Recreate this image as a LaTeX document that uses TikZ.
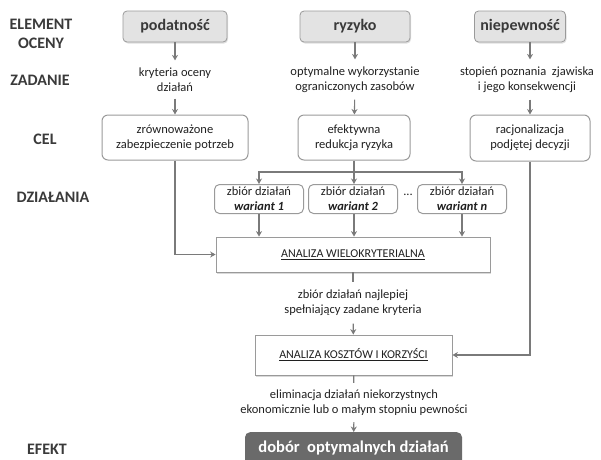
\documentclass[tikz,border=0pt]{standalone}
\usepackage{fontspec}
\setmainfont{Carlito}
\usetikzlibrary{arrows.meta,shadows}
\definecolor{linegray}{HTML}{7A7A7A}
\definecolor{framegray}{HTML}{9A9A9A}
\definecolor{topfill}{HTML}{E3E3E3}
\definecolor{darkfill}{HTML}{6A6A6A}
\definecolor{txt}{HTML}{202020}
\definecolor{lbl}{HTML}{3A3A3A}
\begin{document}
\begin{tikzpicture}[x=1pt,y=-1pt,
  every node/.style={text=txt},
  rowlabel/.style={font=\fontsize{16}{19}\selectfont\bfseries, text=lbl, align=center},
  topbox/.style={draw=framegray, fill=topfill, rounded corners=4pt, line width=0.8pt,
     minimum height=31pt, font=\fontsize{16}{19}\selectfont\bfseries, text=lbl,
     drop shadow={opacity=0.25, shadow xshift=1pt, shadow yshift=-1.5pt}},
  note/.style={align=center, font=\fontsize{12.5}{15}\selectfont, inner xsep=2pt},
  celbox/.style={draw=framegray, fill=white, rounded corners=6pt, line width=1pt,
     align=center, font=\fontsize{12.5}{15}\selectfont},
  varbox/.style={draw=framegray, fill=white, rounded corners=5pt, line width=1pt,
     align=center, minimum height=29pt, minimum width=89pt, inner ysep=0pt,
     font=\fontsize{12.5}{15}\selectfont},
  anbox/.style={draw=framegray, fill=white, line width=0.8pt,
     font=\fontsize{12}{14}\selectfont,
     drop shadow={opacity=0.3, shadow xshift=1.2pt, shadow yshift=-1.5pt}},
  resultbox/.style={fill=darkfill, rounded corners=5pt},
  resulttext/.style={text=white, inner sep=1pt, font=\fontsize{16.5}{19}\selectfont\bfseries},
  link/.style={draw=linegray, line width=1.1pt},
  arrow/.style={link, -{Stealth[length=5.5pt,width=6pt]}}
]
\useasboundingbox (0,0) rectangle (601,459);

% row labels
\node[rowlabel] (lElement) at (41,33.5) {ELEMENT\\OCENY};
\node[rowlabel] (lZadanie) at (40,80) {ZADANIE};
\node[rowlabel] (lCel) at (45,139) {CEL};
\node[rowlabel] (lDzialania) at (53,197) {DZIAŁANIA};
\node[rowlabel] (lEfekt) at (47,449) {EFEKT};

% evaluation elements
\node[topbox, minimum width=104pt] (podat) at (175,26.5) {podatność};
\node[topbox, minimum width=110pt] (ryzyko) at (355,26.5) {ryzyko};
\node[topbox, minimum width=91pt] (niep) at (520,26.5) {niepewność};

% tasks
\node[note, inner ysep=7pt] (zad1) at (175,79.5) {kryteria oceny\\działań};
\node[note, inner ysep=7pt] (zad2) at (355,79.5) {optymalne wykorzystanie\\ograniczonych zasobów};
\node[note, inner ysep=7pt] (zad3) at (527,79.5) {stopień poznania~ zjawiska\\i jego konsekwencji};

% goals
\node[celbox, minimum width=146pt, minimum height=45pt] (cel1) at (175,137.5) {zrównoważone\\zabezpieczenie potrzeb};
\node[celbox, minimum width=112pt, minimum height=45pt] (cel2) at (354,137.5) {efektywna\\redukcja ryzyka};
\node[celbox, minimum width=120pt, minimum height=46pt] (cel3) at (530,138) {racjonalizacja\\podjętej decyzji};

% action variants
\node[varbox] (w1) at (259,199) {zbiór działań\\\textbf{\itshape wariant 1}};
\node[varbox] (w2) at (353,199) {zbiór działań\\\textbf{\itshape wariant 2}};
\node[varbox] (wn) at (462,199) {zbiór działań\\\textbf{\itshape wariant n}};
\node[font=\fontsize{12.5}{15}\selectfont] (dots) at (408,195) {...};

% analyses
\node[anbox, minimum width=274pt, minimum height=35pt] (aw) at (353,254.5) {\underline{ANALIZA WIELOKRYTERIALNA}};
\node[note, inner ysep=7.5pt] (najl) at (353,303) {zbiór działań najlepiej\\spełniający zadane kryteria};
\node[anbox, minimum width=197pt, minimum height=40pt] (ak) at (353.5,355) {\underline{ANALIZA KOSZTÓW I KORZYŚCI}};
\node[note, inner ysep=6.5pt] (elim) at (354,402.5) {eliminacja działań niekorzystnych\\ekonomicznie lub o małym stopniu pewności};

% result: the dark box runs on past the lower edge
\node[resultbox, minimum width=217pt, minimum height=44pt, anchor=north] (wynikbox) at (353.5,432) {};
\node[resulttext] (wynik) at (353.5,448) {dobór~ optymalnych działań};

% connectors
\draw[arrow] (podat) -- (zad1);
\draw[arrow] (ryzyko) -- (zad2);
\draw[arrow] (niep.south -| cel3) -- (zad3.north -| cel3);
\draw[arrow] (zad1) -- (cel1);
\draw[arrow] (zad2) -- (cel2);
\draw[arrow] (zad3.south -| cel3) -- (cel3);

\coordinate (branch) at (354,172);
\draw[link] (cel2.south) -- (branch);
\draw[arrow] (branch) -| (w1.north);
\draw[arrow] (branch) -| (wn.north);
\draw[arrow] (branch) -- (branch |- w2.north);

\draw[arrow] (w1.south) -- (w1.south |- aw.north);
\draw[arrow] (branch |- w2.south) -- (branch |- aw.north);
\draw[arrow] (wn.south) -- (wn.south |- aw.north);

\draw[arrow] (cel1.south) |- (aw.west);
\draw[arrow] (cel3.south) |- (ak.east);

\draw[link] (aw) -- (najl);
\draw[arrow] (najl) -- (ak);
\draw[link] (ak) -- (elim);
\draw[arrow] (elim) -- (wynikbox);
\end{tikzpicture}
\end{document}
